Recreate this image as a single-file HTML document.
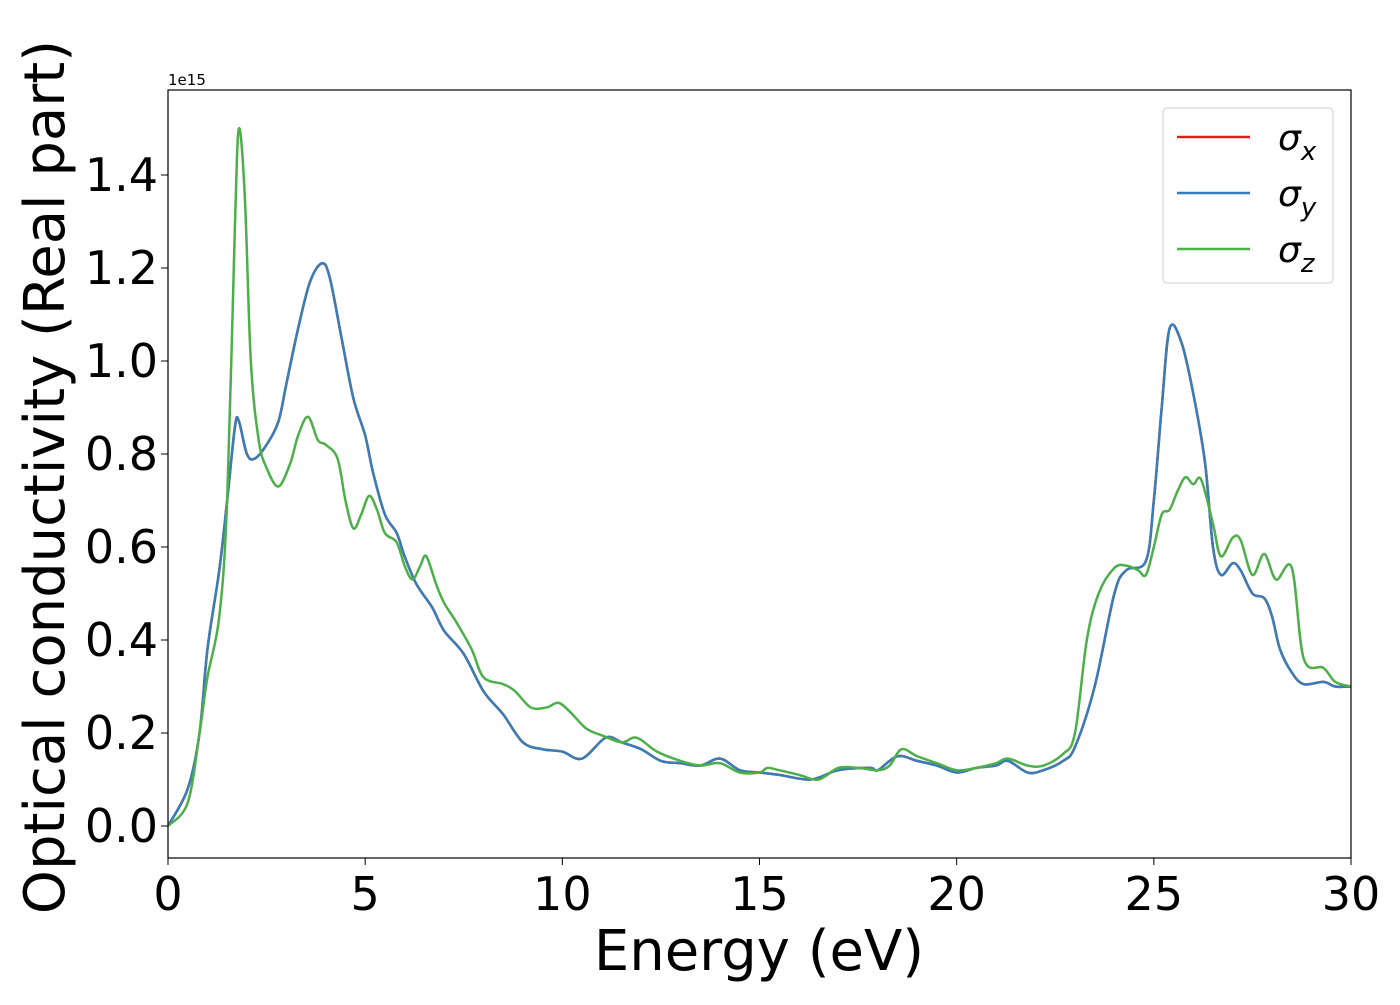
<!DOCTYPE html>
<html><head><meta charset="utf-8"><style>
body{margin:0;background:#fff}
svg{font-family:"DejaVu Sans","Liberation Sans",sans-serif}
</style></head><body>
<svg id="c" width="1400" height="1000" xmlns="http://www.w3.org/2000/svg"></svg>
<script>
const xTicks=[0,5,10,15,20,25,30];
const yTicks=[0.0,0.2,0.4,0.6,0.8,1.0,1.2,1.4];
const yTickLabels=["0.0","0.2","0.4","0.6","0.8","1.0","1.2","1.4"];
const energyXY=[0,0.5,0.8,1.0,1.3,1.5,1.7,1.8,2.0,2.2,2.5,2.8,3.0,3.3,3.6,3.9,4.1,4.4,4.7,5.0,5.2,5.5,5.8,6.0,6.3,6.7,7.0,7.5,8.0,8.5,9.0,9.5,10,10.5,11.1,11.5,12,12.5,13,13.5,14,14.5,15,15.5,16.3,17,17.8,18,18.5,19,19.5,20,20.5,21,21.3,21.8,22.2,22.7,23,23.5,24,24.3,24.8,25.0,25.2,25.4,25.7,26,26.3,26.5,26.7,27,27.2,27.5,27.8,28,28.2,28.5,28.8,29.3,29.6,30];
const sigmaXY=[0,0.08,0.2,0.38,0.55,0.7,0.86,0.87,0.8,0.79,0.82,0.87,0.95,1.07,1.17,1.21,1.18,1.05,0.92,0.84,0.76,0.67,0.63,0.58,0.52,0.47,0.42,0.37,0.29,0.24,0.18,0.165,0.16,0.145,0.19,0.18,0.165,0.14,0.135,0.13,0.145,0.12,0.115,0.11,0.1,0.12,0.125,0.12,0.15,0.14,0.13,0.115,0.125,0.13,0.14,0.115,0.12,0.14,0.17,0.3,0.5,0.55,0.57,0.7,0.9,1.07,1.04,0.93,0.78,0.6,0.54,0.565,0.55,0.5,0.49,0.45,0.38,0.33,0.305,0.31,0.3,0.3];
const energyZ=[0,0.5,0.8,1.0,1.3,1.5,1.7,1.8,1.95,2.1,2.3,2.5,2.8,3.1,3.3,3.55,3.8,4.0,4.3,4.5,4.7,4.9,5.1,5.3,5.5,5.8,6.0,6.2,6.4,6.55,6.8,7.0,7.3,7.7,8.0,8.5,8.8,9.2,9.6,9.9,10.2,10.6,11,11.5,11.8,12,12.4,13,13.5,14,14.5,15,15.2,15.5,16,16.5,17,17.5,18,18.3,18.6,19,19.5,20,20.5,21,21.3,21.8,22.2,22.7,23,23.3,23.6,24,24.3,24.6,24.8,25,25.2,25.4,25.6,25.8,26,26.2,26.5,26.7,27,27.2,27.5,27.8,28.1,28.5,28.8,29.3,29.6,30];
const sigmaZ=[0,0.05,0.2,0.32,0.45,0.7,1.3,1.5,1.35,1.0,0.83,0.77,0.73,0.78,0.84,0.88,0.83,0.82,0.79,0.7,0.64,0.67,0.71,0.68,0.63,0.61,0.56,0.53,0.56,0.58,0.52,0.48,0.44,0.38,0.32,0.305,0.29,0.255,0.255,0.265,0.245,0.21,0.195,0.18,0.19,0.185,0.16,0.14,0.13,0.135,0.115,0.115,0.125,0.12,0.11,0.1,0.125,0.125,0.12,0.13,0.165,0.15,0.135,0.12,0.125,0.135,0.145,0.13,0.13,0.155,0.2,0.4,0.5,0.555,0.56,0.55,0.54,0.6,0.67,0.68,0.72,0.75,0.735,0.745,0.65,0.58,0.62,0.615,0.54,0.585,0.53,0.555,0.36,0.34,0.31,0.3];

const svg=document.getElementById('c');
const NS='http://www.w3.org/2000/svg';
const L=168,R=1351,T=90,B=858;
const xs=v=>L+(v-0)/30*(R-L);
const ys=v=>826-v*465;
function mk(tag,attrs,parent){const e=document.createElementNS(NS,tag);for(const k in attrs)e.setAttribute(k,attrs[k]);(parent||svg).appendChild(e);return e;}
function path(xa,ya){const p=xa.map((x,i)=>[xs(x),ys(ya[i])]);let d='M'+p[0][0]+','+p[0][1];
for(let i=0;i<p.length-1;i++){const p0=p[Math.max(0,i-1)],p1=p[i],p2=p[i+1],p3=p[Math.min(p.length-1,i+2)];
const c1=[p1[0]+(p2[0]-p0[0])/6,p1[1]+(p2[1]-p0[1])/6],c2=[p2[0]-(p3[0]-p1[0])/6,p2[1]-(p3[1]-p1[1])/6];
d+=` C${c1[0]},${c1[1]} ${c2[0]},${c2[1]} ${p2[0]},${p2[1]}`;}return d;}
const defs=mk('defs',{});const cp=mk('clipPath',{id:'cp'},defs);mk('rect',{x:L,y:T,width:R-L,height:B-T},cp);
const g=mk('g',{'clip-path':'url(#cp)'});
let e;
e=mk('path',{d:path(energyXY,sigmaXY),fill:'none',stroke:'#e41a1c','stroke-width':2.5},g);
e=mk('path',{d:path(energyXY,sigmaXY),fill:'none',stroke:'#377eb8','stroke-width':2.5},g);
e=mk('path',{d:path(energyZ,sigmaZ),fill:'none',stroke:'#4daf4a','stroke-width':2.5},g);
e=mk('rect',{x:L,y:T,width:R-L,height:B-T,fill:'none',stroke:'#000','stroke-width':1.2});
xTicks.forEach(v=>{mk('line',{x1:xs(v),x2:xs(v),y1:B,y2:B+7,stroke:'#000'});
e=mk('text',{x:xs(v),y:B+52,'font-size':46,'text-anchor':'middle'});e.textContent=v;});
yTicks.forEach((v,i)=>{mk('line',{x1:L-7,x2:L,y1:ys(v),y2:ys(v),stroke:'#000'});
e=mk('text',{x:L-10,y:ys(v)+16,'font-size':46,'text-anchor':'end'});e.textContent=yTickLabels[i];});
e=mk('text',{x:L,y:T-5,'font-size':15});e.textContent='1e15';
e=mk('text',{x:759,y:970,'font-size':56,'text-anchor':'middle'});e.textContent='Energy (eV)';
e=mk('text',{x:0,y:0,'font-size':56,'text-anchor':'middle',transform:'translate(64,477) rotate(-90)'});e.textContent='Optical conductivity (Real part)';
const lg=mk('g',{});
mk('rect',{x:1163,y:108,width:170,height:175,rx:4,fill:'#fff',stroke:'#ccc'},lg);
[['#e41a1c','x'],['#377eb8','y'],['#4daf4a','z']].forEach((s,i)=>{const y=137+i*56;
mk('line',{x1:1177,x2:1250,y1:y,y2:y,stroke:s[0],'stroke-width':2.5},lg);
const t=mk('text',{x:1278,y:y+13,'font-size':36,'font-style':'italic'},lg);
t.innerHTML='σ<tspan font-size="26" dy="10">'+s[1]+'</tspan>';});
</script>
</body></html>
